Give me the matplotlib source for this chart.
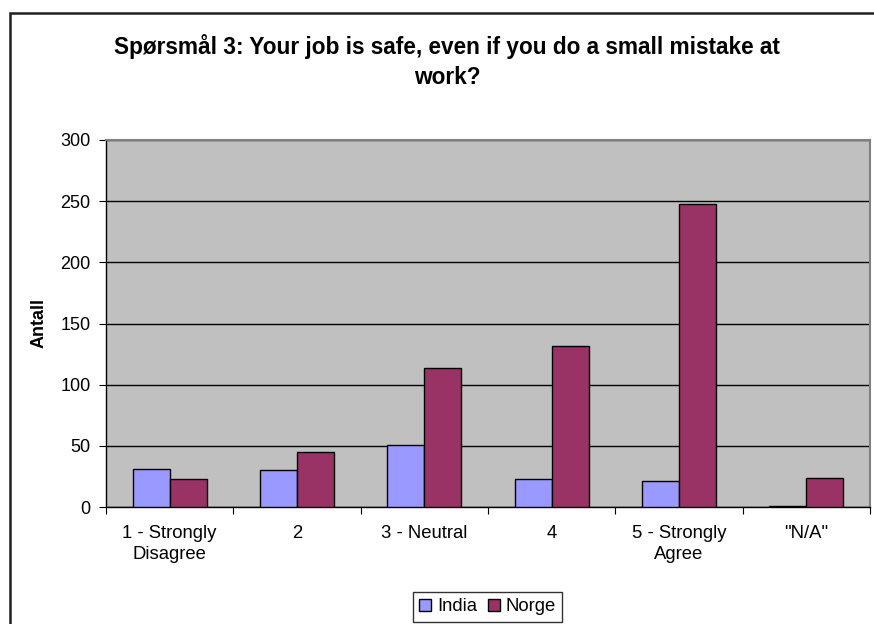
import matplotlib
matplotlib.use("Agg")
import matplotlib.pyplot as plt
from matplotlib.patches import Rectangle
import numpy as np

plt.rcParams['font.family'] = ['Liberation Sans', 'DejaVu Sans']

categories = ["1 - Strongly\nDisagree", "2", "3 - Neutral", "4", "5 - Strongly\nAgree", "\"N/A\""]
india = [31, 30, 51, 23, 21, 1]
norge = [23, 45, 114, 132, 248, 24]
series_names = ["India", "Norge"]
yticks = [0, 50, 100, 150, 200, 250, 300]

W, H = 874, 624
fig = plt.figure(figsize=(W / 100, H / 100), dpi=100)
fig.patch.set_facecolor("white")

# chart frame (runs past the right and bottom edges of the image)
fig.patches.append(Rectangle((10 / W, -0.05), 1.05, (H - 13) / H + 0.05,
                             transform=fig.transFigure, fill=False,
                             edgecolor="#202020", linewidth=1.8, zorder=0))

left, right, top, bottom = 106, 870, 140, 507
ax = fig.add_axes([left / W, (H - bottom) / H, (right - left) / W, (bottom - top) / H])
ax.set_facecolor("#C0C0C0")

x = np.arange(len(categories)) + 0.5
bw = 0.29
ax.bar(x - bw / 2, india, bw, color="#9999FF", edgecolor="black", linewidth=1.0,
       label=series_names[0], zorder=3)
ax.bar(x + bw / 2, norge, bw, color="#993366", edgecolor="black", linewidth=1.0,
       label=series_names[1], zorder=3)

ax.set_xlim(0, len(categories))
ax.set_ylim(0, 300)
ax.set_yticks(yticks)
ax.set_yticklabels([str(v) for v in yticks])
ax.yaxis.grid(True, color="black", linewidth=1.0, zorder=1)
ax.set_axisbelow(True)

ax.set_xticks(np.arange(len(categories) + 1))
ax.set_xticklabels([])
ax.set_xticks(x, minor=True)
ax.set_xticklabels(categories, minor=True, fontsize=13.3, linespacing=1.3)
ax.tick_params(axis="x", which="minor", length=0, pad=13)
ax.tick_params(axis="x", which="major", length=5, direction="out", color="black")
ax.tick_params(axis="y", length=5, direction="out", labelsize=13, pad=6)

for s in ["top", "right"]:
    ax.spines[s].set_color("#808080")
    ax.spines[s].set_linewidth(1.5)
for s in ["left", "bottom"]:
    ax.spines[s].set_color("black")
    ax.spines[s].set_linewidth(1.0)

ax.set_ylabel("Antall", fontsize=13, fontweight="bold")
ax.yaxis.set_label_coords((48 - left) / (right - left), 0.5)

fig.text(447 / W, 1 - 61.5 / H,
         "Spørsmål 3: Your job is safe, even if you do a small mistake at\nwork?",
         ha="center", va="center", fontsize=16.3, fontweight="bold", linespacing=1.35)

leg = fig.legend(loc="upper center", bbox_to_anchor=(487.5 / W, 1 - 592 / H),
                 ncol=2, fontsize=13.3, frameon=True, fancybox=False,
                 edgecolor="black", handlelength=0.65, handleheight=0.65,
                 handletextpad=0.3, columnspacing=0.6, borderpad=0.35,
                 borderaxespad=0)
leg.get_frame().set_linewidth(1.0)

fig.savefig("out.png", dpi=100)
